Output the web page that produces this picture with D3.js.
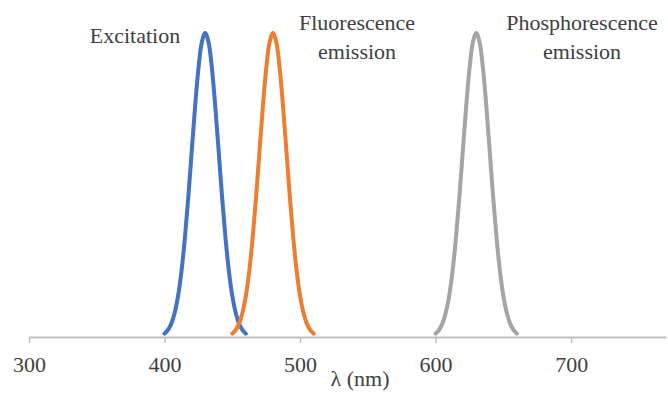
<!DOCTYPE html>
<html>
<head>
<meta charset="utf-8">
<script src="https://cdn.jsdelivr.net/npm/d3@7/dist/d3.min.js"></script>
</head>
<body style="margin:0">
<svg id="chart" width="668" height="398">
<text x="135" y="43" font-size="22" font-family="Liberation Serif" text-anchor="middle" fill="#404040">Excitation</text>
<text x="357" y="30" font-size="22" font-family="Liberation Serif" text-anchor="middle" fill="#404040">Fluorescence</text>
<text x="357" y="59" font-size="22" font-family="Liberation Serif" text-anchor="middle" fill="#404040">emission</text>
<text x="582" y="30" font-size="22" font-family="Liberation Serif" text-anchor="middle" fill="#404040">Phosphorescence</text>
<text x="582" y="59" font-size="22" font-family="Liberation Serif" text-anchor="middle" fill="#404040">emission</text>
<text x="360" y="386" font-size="22" font-family="Liberation Serif" text-anchor="middle" fill="#404040">λ (nm)</text>
</svg>
<script>
// ---- data ----
const tickValues = [300, 400, 500, 600, 700];

const excitationX = [400, 402.5, 405, 407.5, 410, 412.5, 415, 417.5, 420, 422.5, 425, 427.5, 430, 432.5, 435, 437.5, 440, 442.5, 445, 447.5, 450, 452.5, 455, 457.5, 460];
const excitationY = [0.011, 0.023, 0.044, 0.080, 0.135, 0.216, 0.325, 0.458, 0.607, 0.755, 0.882, 0.969, 1.0, 0.969, 0.882, 0.755, 0.607, 0.458, 0.325, 0.216, 0.135, 0.080, 0.044, 0.023, 0.011];

const fluorescenceX = [450, 452.5, 455, 457.5, 460, 462.5, 465, 467.5, 470, 472.5, 475, 477.5, 480, 482.5, 485, 487.5, 490, 492.5, 495, 497.5, 500, 502.5, 505, 507.5, 510];
const fluorescenceY = [0.011, 0.023, 0.044, 0.080, 0.135, 0.216, 0.325, 0.458, 0.607, 0.755, 0.882, 0.969, 1.0, 0.969, 0.882, 0.755, 0.607, 0.458, 0.325, 0.216, 0.135, 0.080, 0.044, 0.023, 0.011];

const phosphorescenceX = [600, 602.5, 605, 607.5, 610, 612.5, 615, 617.5, 620, 622.5, 625, 627.5, 630, 632.5, 635, 637.5, 640, 642.5, 645, 647.5, 650, 652.5, 655, 657.5, 660];
const phosphorescenceY = [0.011, 0.023, 0.044, 0.080, 0.135, 0.216, 0.325, 0.458, 0.607, 0.755, 0.882, 0.969, 1.0, 0.969, 0.882, 0.755, 0.607, 0.458, 0.325, 0.216, 0.135, 0.080, 0.044, 0.023, 0.011];

const seriesColors = ["#4472C4", "#ED7D31", "#A5A5A5"];

// ---- drawing ----
const svg = d3.select("#chart");
const x = d3.scaleLinear().domain([300, 770]).range([29, 666]);
const y = d3.scaleLinear().domain([0, 1]).range([337, 33]);

const series = [
  { color: seriesColors[0], pts: excitationX.map((v, i) => [v, excitationY[i]]) },
  { color: seriesColors[1], pts: fluorescenceX.map((v, i) => [v, fluorescenceY[i]]) },
  { color: seriesColors[2], pts: phosphorescenceX.map((v, i) => [v, phosphorescenceY[i]]) }
];

// axis
const axis = d3.axisBottom(x).tickValues(tickValues).tickSize(6).tickPadding(8).tickSizeOuter(0);
const gx = svg.insert("g", ":first-child").attr("transform", "translate(0,337)").call(axis)
  .attr("font-family", "Liberation Serif").attr("font-size", 22);
gx.select(".domain").attr("stroke", "#BFBFBF").attr("stroke-width", 2);
gx.selectAll(".tick line").attr("stroke", "#BFBFBF").attr("stroke-width", 1.5);
gx.selectAll(".tick text")
  .attr("font-family", "Liberation Serif")
  .attr("font-size", 22)
  .attr("fill", "#404040")
  .attr("dy", null)
  .attr("y", 35);

// lines
const line = d3.line()
  .x(d => x(d[0]))
  .y(d => y(d[1]))
  .curve(d3.curveCatmullRom);

svg.append("g").selectAll("path")
  .data(series)
  .join("path")
  .attr("d", d => line(d.pts))
  .attr("fill", "none")
  .attr("stroke", d => d.color)
  .attr("stroke-width", 4)
  .attr("stroke-linecap", "round")
  .attr("stroke-linejoin", "round");
</script>
</body>
</html>
